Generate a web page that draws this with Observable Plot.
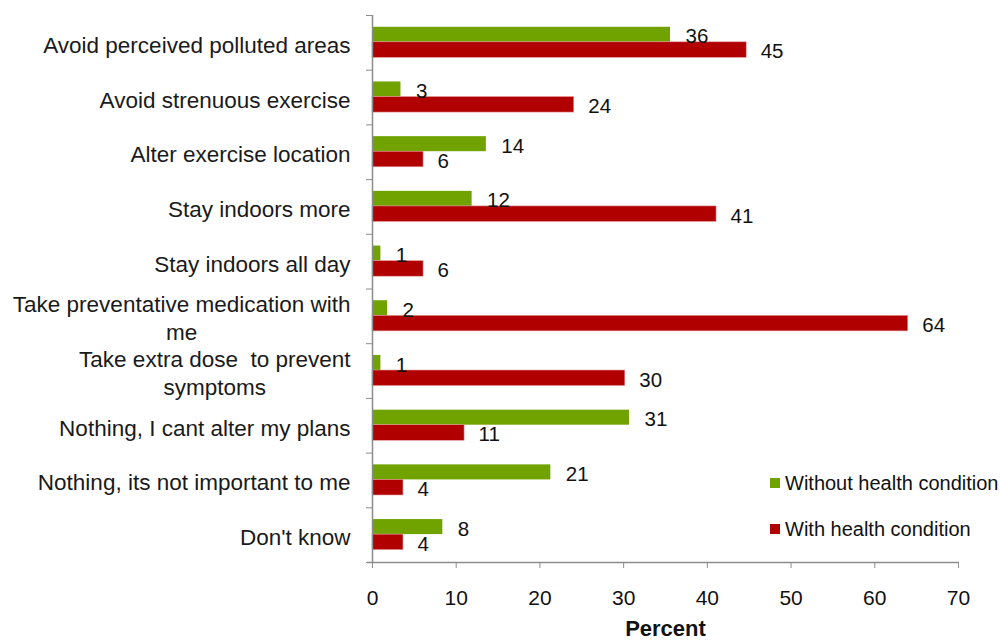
<!DOCTYPE html>
<html><head><meta charset="utf-8">
<script src="https://cdn.jsdelivr.net/npm/d3@7"></script>
<script src="https://cdn.jsdelivr.net/npm/@observablehq/plot@0.6"></script>
<style>
body{margin:0;background:#fff;font-family:"Liberation Sans",Arial,sans-serif}
#wrap{position:relative;width:1001px;height:640px}
.legend{position:absolute;left:770px;top:460px;font-size:20px;color:#111}
.item{display:flex;align-items:center;height:46px}
.sw{width:10px;height:10px;margin-right:5px}
</style></head>
<body><div id="wrap"></div>
<script>
const categories = [
  "Avoid perceived polluted areas",
  "Avoid strenuous exercise",
  "Alter exercise location",
  "Stay indoors more",
  "Stay indoors all day",
  "Take preventative medication with\nme",
  "Take extra dose\u00a0 to prevent\nsymptoms",
  "Nothing, I cant alter my plans",
  "Nothing, its not important to me",
  "Don't know"
];
const withoutValues = [35.6, 3.4, 13.6, 11.9, 1.0, 1.8, 1.0, 30.7, 21.3, 8.4];
const withValues    = [44.7, 24.1, 6.1, 41.1, 6.1, 64.0, 30.2, 11.0, 3.7, 3.7];
const withoutLabels = ["36", "3", "14", "12", "1", "2", "1", "31", "21", "8"];
const withLabels    = ["45", "24", "6", "41", "6", "64", "30", "11", "4", "4"];
const seriesNames = ["Without health condition", "With health condition"];
const xTicks = [0, 10, 20, 30, 40, 50, 60, 70];

const green = "#70a200", red = "#b00000", gray = "#8c8c8c";
const catFont = 22.5;
const rows = categories.map((c, i) => ({i, c, g: withoutValues[i], r: withValues[i], gl: withoutLabels[i], rl: withLabels[i]}));

// measure the widest line of each category label so wrapped labels are centred like the original
const ctx = document.createElement("canvas").getContext("2d");
ctx.font = `${catFont}px "Liberation Sans", Arial, sans-serif`;
const labelMarks = rows.map(r => {
  const w = d3.max(r.c.split("\n"), s => ctx.measureText(s).width);
  return Plot.text([r], {x: 0, y: d => d.i + 0.52, text: "c", textAnchor: "middle", dx: -22 - w / 2,
    fontSize: catFont, lineHeight: 1.24, fill: "#1a1a1a"});
});

const chart = Plot.plot({
  width: 1001, height: 640,
  marginLeft: 372, marginRight: 43, marginTop: 15, marginBottom: 78,
  style: {fontFamily: '"Liberation Sans", Arial, sans-serif', background: "#fff"},
  x: {domain: [0, 70]},
  y: {domain: [0, categories.length], reverse: true},
  marks: [
    Plot.rectX(rows, {x1: 0, x2: "g", y1: d => d.i + 0.215, y2: d => d.i + 0.49, fill: green}),
    Plot.rectX(rows, {x1: 0, x2: "r", y1: d => d.i + 0.49, y2: d => d.i + 0.775, fill: red, stroke: "#e6a0a0", strokeWidth: 0.6}),
    Plot.text(rows, {x: "g", y: d => d.i + 0.39, text: "gl", textAnchor: "start", dx: 15, fontSize: 20.5, fill: "#111"}),
    Plot.text(rows, {x: "r", y: d => d.i + 0.665, text: "rl", textAnchor: "start", dx: 14, fontSize: 20.5, fill: "#111"}),
    ...labelMarks,
    Plot.ruleX([0], {stroke: gray, strokeWidth: 1.5}),
    Plot.ruleY([categories.length], {stroke: gray, strokeWidth: 1.5, insetLeft: -5}),
    Plot.axisY({ticks: d3.range(0, categories.length + 1), tickSize: 6, tickFormat: () => "", stroke: gray, label: null}),
    Plot.axisX({ticks: xTicks, tickSize: 6, tickPadding: 22, fontSize: 21, stroke: gray, fill: "#111", label: null}),
    Plot.text(["Percent"], {text: d => d, frameAnchor: "bottom", dy: 73, lineAnchor: "bottom", fontWeight: "bold", fontSize: 22, fill: "#111"})
  ]
});
const wrap = document.getElementById("wrap");
wrap.appendChild(chart);
const leg = document.createElement("div");
leg.className = "legend";
[[seriesNames[0], green], [seriesNames[1], red]].forEach(([n, c]) => {
  const it = document.createElement("div"); it.className = "item";
  const sw = document.createElement("span"); sw.className = "sw"; sw.style.background = c;
  const t = document.createElement("span"); t.textContent = n;
  it.appendChild(sw); it.appendChild(t); leg.appendChild(it);
});
wrap.appendChild(leg);
</script></body></html>
